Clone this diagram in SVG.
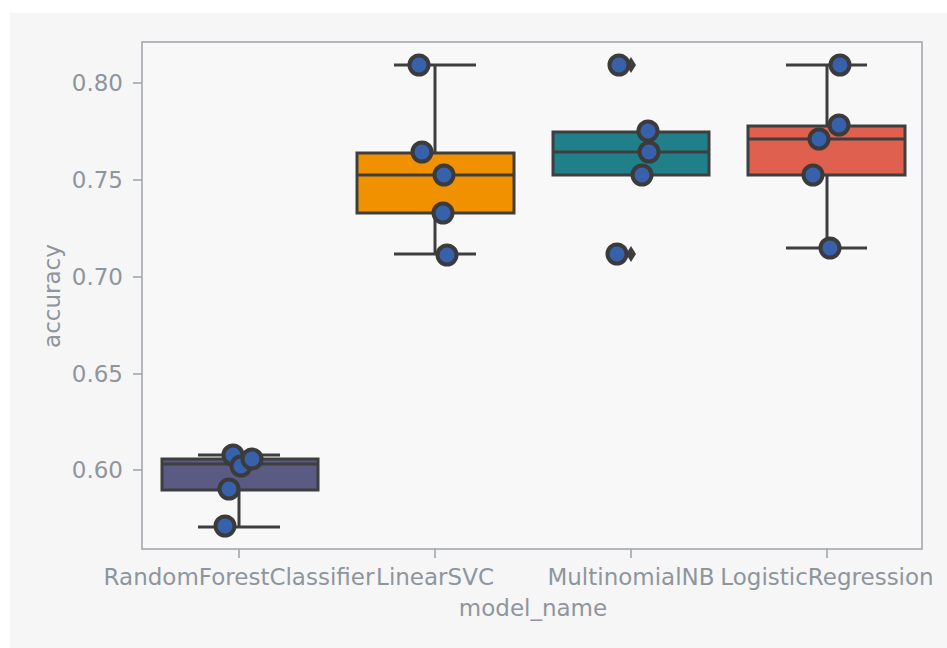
<svg xmlns="http://www.w3.org/2000/svg" width="947" height="648" viewBox="0 0 947 648">
  <style>
    .lbl { font-family: "DejaVu Sans", sans-serif; font-size: 23px; fill: #8e959d; }
    .spine { stroke: #a3a8ae; stroke-width: 1.6; fill: none; }
    .tick { stroke: #a3a8ae; stroke-width: 1.6; }
    .ln { stroke: #3e3e3e; stroke-width: 3; fill: none; }
    .box { stroke: #3e3e3e; stroke-width: 3; }
    .pt { fill: #3762ab; stroke: #3b3b3b; stroke-width: 4; }
    .flier { fill: #3e3e3e; }
  </style>
  <defs>
    <circle id="dot" r="9.5" class="pt"/>
  </defs>
  <!-- figure and axes backgrounds -->
  <rect x="0" y="0" width="947" height="648" fill="#ffffff"/>
  <rect x="10" y="13" width="937" height="635" fill="#f6f6f6"/>
  <rect x="142" y="42" width="780" height="507" fill="#f8f8f8"/>

  <!-- y axis -->
  <g id="y-axis">
    <line class="tick" x1="133" y1="83" x2="142" y2="83"/>
    <line class="tick" x1="133" y1="180" x2="142" y2="180"/>
    <line class="tick" x1="133" y1="277" x2="142" y2="277"/>
    <line class="tick" x1="133" y1="374" x2="142" y2="374"/>
    <line class="tick" x1="133" y1="470" x2="142" y2="470"/>
    <text class="lbl" x="123" y="91" text-anchor="end">0.80</text>
    <text class="lbl" x="123" y="188" text-anchor="end">0.75</text>
    <text class="lbl" x="123" y="285" text-anchor="end">0.70</text>
    <text class="lbl" x="123" y="382" text-anchor="end">0.65</text>
    <text class="lbl" x="123" y="478" text-anchor="end">0.60</text>
    <text class="lbl" transform="translate(60,296) rotate(-90)" text-anchor="middle">accuracy</text>
  </g>

  <!-- x axis -->
  <g id="x-axis">
    <line class="tick" x1="239" y1="549" x2="239" y2="558"/>
    <line class="tick" x1="435" y1="549" x2="435" y2="558"/>
    <line class="tick" x1="631" y1="549" x2="631" y2="558"/>
    <line class="tick" x1="827" y1="549" x2="827" y2="558"/>
    <text class="lbl" x="239" y="585" text-anchor="middle">RandomForestClassifier</text>
    <text class="lbl" x="435" y="585" text-anchor="middle">LinearSVC</text>
    <text class="lbl" x="631" y="585" text-anchor="middle">MultinomialNB</text>
    <text class="lbl" x="827" y="585" text-anchor="middle">LogisticRegression</text>
    <text class="lbl" x="533" y="616" text-anchor="middle">model_name</text>
  </g>

  <!-- box: RandomForestClassifier -->
  <g id="box-rf">
    <line class="ln" x1="239" y1="490" x2="239" y2="527"/>
    <line class="ln" x1="198" y1="527" x2="280" y2="527"/>
    <line class="ln" x1="198" y1="455" x2="280" y2="455"/>
    <rect class="box" x="162" y="459" width="156" height="31" fill="#5a5a83"/>
    <line class="ln" x1="162" y1="464" x2="318" y2="464"/>
  </g>

  <!-- box: LinearSVC -->
  <g id="box-svc">
    <line class="ln" x1="435" y1="65" x2="435" y2="153"/>
    <line class="ln" x1="394" y1="65" x2="476" y2="65"/>
    <line class="ln" x1="435" y1="213" x2="435" y2="254"/>
    <line class="ln" x1="394" y1="254" x2="476" y2="254"/>
    <rect class="box" x="357" y="153" width="157" height="60" fill="#f29100"/>
    <line class="ln" x1="357" y1="175" x2="514" y2="175"/>
  </g>

  <!-- box: MultinomialNB -->
  <g id="box-mnb">
    <rect class="box" x="553" y="132" width="156" height="43" fill="#20808a"/>
    <line class="ln" x1="553" y1="152" x2="709" y2="152"/>
    <path class="flier" d="M631,57 L636,65 L631,73 L626,65 Z"/>
    <path class="flier" d="M631,246 L636,254 L631,262 L626,254 Z"/>
  </g>

  <!-- box: LogisticRegression -->
  <g id="box-lr">
    <line class="ln" x1="827" y1="65" x2="827" y2="126"/>
    <line class="ln" x1="786" y1="65" x2="867" y2="65"/>
    <line class="ln" x1="827" y1="175" x2="827" y2="248"/>
    <line class="ln" x1="786" y1="248" x2="867" y2="248"/>
    <rect class="box" x="748" y="126" width="157" height="49" fill="#e0604f"/>
    <line class="ln" x1="748" y1="139" x2="905" y2="139"/>
  </g>

  <!-- strip points -->
  <g id="points">
    <use href="#dot" x="233" y="455"/>
    <use href="#dot" x="241" y="466"/>
    <use href="#dot" x="252" y="459"/>
    <use href="#dot" x="229" y="489"/>
    <use href="#dot" x="225" y="526"/>

    <use href="#dot" x="419" y="65"/>
    <use href="#dot" x="422" y="152"/>
    <use href="#dot" x="444" y="175"/>
    <use href="#dot" x="443" y="213"/>
    <use href="#dot" x="447" y="255"/>

    <use href="#dot" x="619" y="65"/>
    <use href="#dot" x="648" y="131"/>
    <use href="#dot" x="649" y="152"/>
    <use href="#dot" x="642" y="175"/>
    <use href="#dot" x="617" y="254"/>

    <use href="#dot" x="840" y="65"/>
    <use href="#dot" x="839" y="125"/>
    <use href="#dot" x="819" y="139"/>
    <use href="#dot" x="813" y="175"/>
    <use href="#dot" x="830" y="248"/>
  </g>

  <!-- spines -->
  <g id="spines">
    <rect class="spine" x="142" y="42" width="780" height="507"/>
  </g>
</svg>
